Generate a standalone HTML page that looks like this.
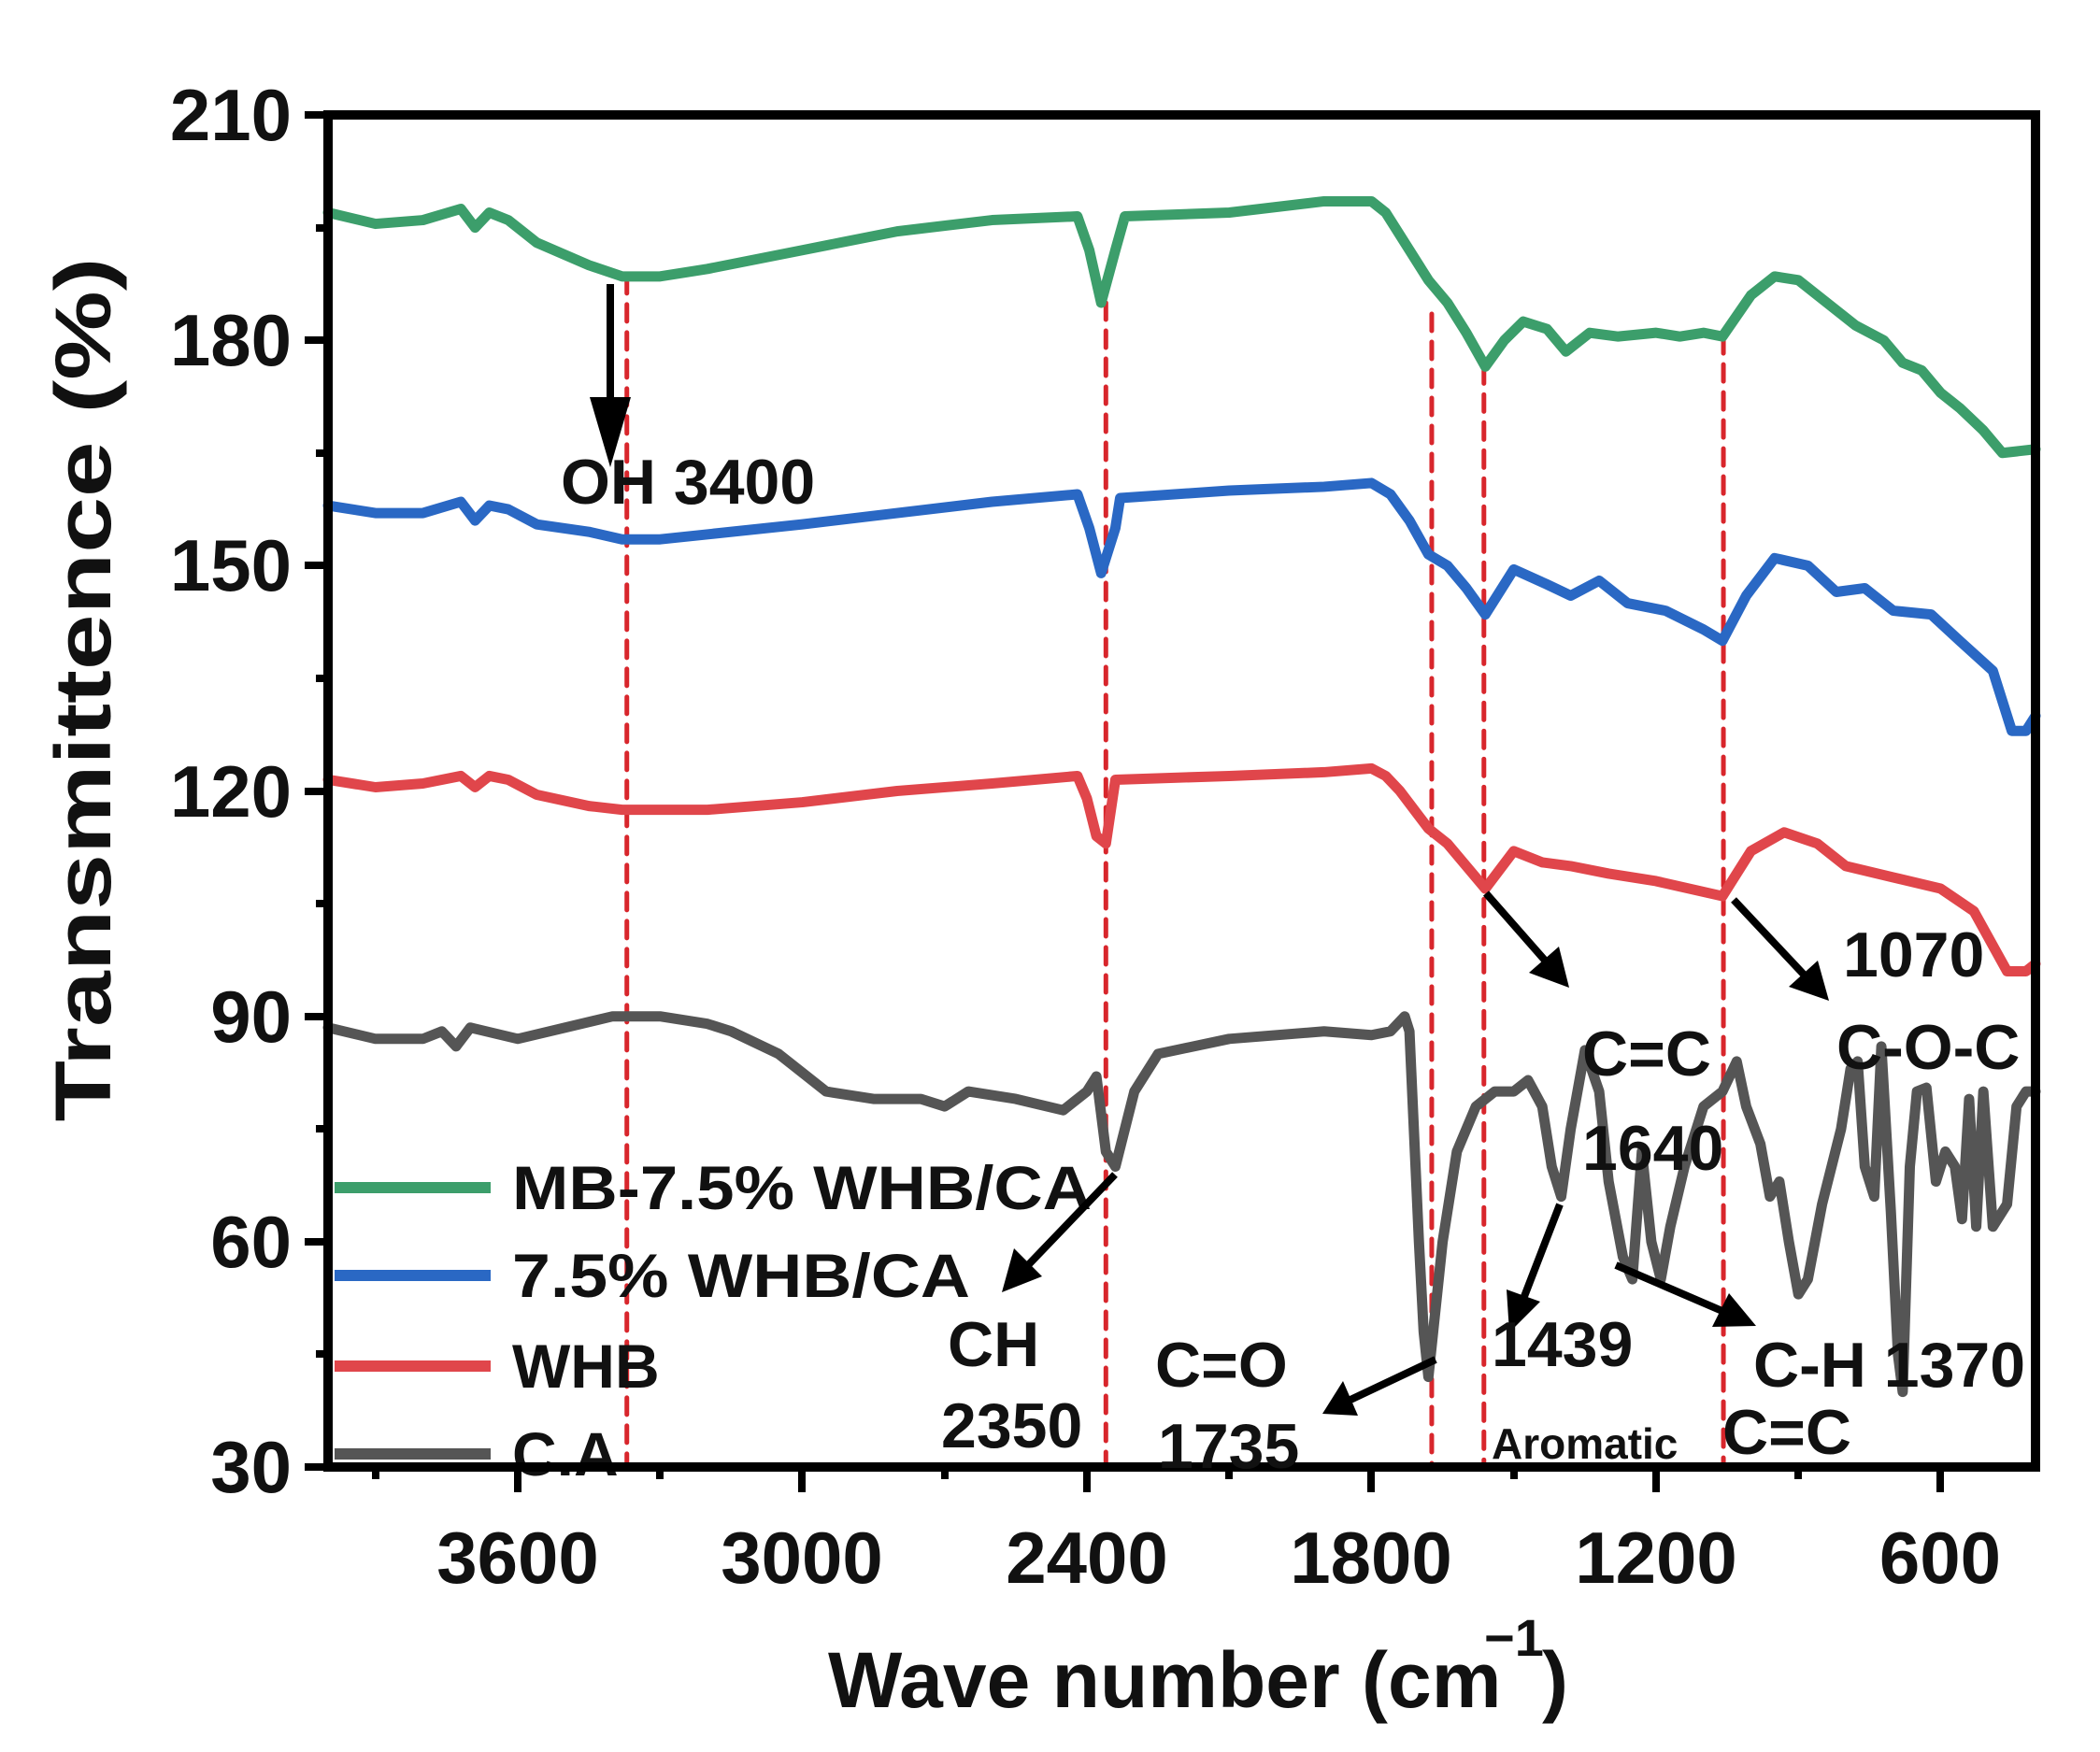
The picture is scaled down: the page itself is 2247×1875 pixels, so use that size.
<!DOCTYPE html>
<html><head><meta charset="utf-8"><style>
html,body{margin:0;padding:0;background:#fff;}
svg{display:block;}
text{font-family:"Liberation Sans",Arial,sans-serif;font-weight:bold;fill:#111;}
</style></head><body>
<svg width="2247" height="1875" viewBox="0 0 2247 1875" xmlns="http://www.w3.org/2000/svg">
<g transform="matrix(-0.5075 0 0 -8.039 2381 1811.2)" fill="none" stroke-linejoin="round" stroke-linecap="round">
<g stroke="#d8262c" stroke-width="5" stroke-dasharray="18 12">
<line x1="3370" y1="188.5" x2="3370" y2="30" vector-effect="non-scaling-stroke"/>
<line x1="2360" y1="185" x2="2360" y2="30" vector-effect="non-scaling-stroke"/>
<line x1="1673" y1="183.5" x2="1673" y2="30" vector-effect="non-scaling-stroke"/>
<line x1="1563" y1="176.5" x2="1563" y2="30" vector-effect="non-scaling-stroke"/>
<line x1="1058" y1="180.5" x2="1058" y2="30" vector-effect="non-scaling-stroke"/>
</g>
<polyline vector-effect="non-scaling-stroke" stroke="#3c9e6b" stroke-width="11" points="4000,197 3900,195.5 3800,196 3720,197.5 3690,195 3660,197 3620,196 3560,193 3450,190 3380,188.5 3300,188.5 3200,189.5 3000,192 2800,194.5 2600,196 2420,196.5 2395,192 2370,185 2340,192 2320,196.5 2100,197 1900,198.5 1800,198.5 1770,197 1720,192 1680,188 1640,185 1600,181 1560,176.5 1520,180 1480,182.5 1430,181.5 1390,178.5 1340,181 1280,180.5 1200,181 1150,180.5 1100,181 1060,180.5 1000,186 950,188.5 900,188 840,185 780,182 720,180 680,177 640,176 600,173 560,171 510,168 470,165 400,165.5"/>
<polyline vector-effect="non-scaling-stroke" stroke="#2a68c4" stroke-width="11" points="4000,158 3900,157 3800,157 3720,158.5 3690,156 3660,158 3620,157.5 3560,155.5 3450,154.5 3380,153.5 3300,153.5 3000,155.5 2800,157 2600,158.5 2420,159.5 2395,155 2370,149 2340,155 2330,159 2100,160 1900,160.5 1800,161 1760,159.5 1720,156 1680,151.5 1640,150 1600,147 1560,143.5 1500,149.5 1430,147.5 1380,146 1320,148 1260,145 1180,144 1100,141.5 1060,140 1010,146 950,151 880,150 820,146.5 760,147 700,144 620,143.5 560,140 490,136 450,128 420,128 400,130"/>
<polyline vector-effect="non-scaling-stroke" stroke="#e0464b" stroke-width="11" points="4000,121.5 3900,120.5 3800,121 3720,122 3690,120.5 3660,122 3620,121.5 3560,119.5 3450,118 3380,117.5 3200,117.5 3000,118.5 2800,120 2600,121 2420,122 2400,119 2380,114 2360,113 2340,121.5 2100,122 1900,122.5 1800,123 1770,122 1740,120 1680,115 1640,113 1600,110 1560,107 1500,112 1440,110.5 1380,110 1300,109 1200,108 1060,106 1000,112 930,114.5 860,113 800,110 700,108.5 600,107 530,104 460,96 420,96 400,97"/>
<polyline vector-effect="non-scaling-stroke" stroke="#555555" stroke-width="11" points="4000,88.5 3900,87 3800,87 3760,88 3730,86 3700,88.5 3600,87 3500,88.5 3400,90 3300,90 3200,89 3150,88 3050,85 2950,80 2850,79 2750,79 2700,78 2650,80 2550,79 2450,77.5 2400,80 2380,82 2360,72 2340,70 2300,80 2250,85 2100,87 1900,88 1800,87.5 1760,88 1730,90 1720,88 1700,60 1690,48 1680,42 1670,48 1650,60 1620,72 1580,78 1540,80 1500,80 1470,81.5 1440,78 1420,70 1400,66 1380,75 1350,85.5 1320,80 1300,68 1270,58 1250,55 1230,72 1210,60 1190,55 1170,62 1140,70 1100,78 1060,80 1030,84 1010,78 980,73 960,66 940,68 920,60 900,53 880,55 850,65 810,75 790,83 775,84 760,70 740,66 725,86 705,64 690,45 680,40 665,70 650,80 630,80.5 610,68 590,72 570,70 555,63 540,79 525,62 510,80 490,62 460,65 440,78 420,80 400,80"/>
</g>
<g stroke-width="12" stroke-linecap="butt">
<line x1="358" y1="1271" x2="525" y2="1271" stroke="#3c9e6b"/>
<line x1="358" y1="1365" x2="525" y2="1365" stroke="#2a68c4"/>
<line x1="358" y1="1462" x2="525" y2="1462" stroke="#e0464b"/>
<line x1="358" y1="1556" x2="525" y2="1556" stroke="#555555"/>
</g>
<g font-size="66">
<text x="548" y="1294" textLength="620" lengthAdjust="spacingAndGlyphs">MB-7.5% WHB/CA</text>
<text x="548" y="1388" textLength="490" lengthAdjust="spacingAndGlyphs">7.5% WHB/CA</text>
<text x="548" y="1485">WHB</text>
<text x="548" y="1579">C.A</text>
</g>
<rect x="351" y="123" width="1827" height="1447" fill="none" stroke="#000" stroke-width="10"/>
<g stroke="#000" stroke-width="8">
<line x1="326" y1="123" x2="351" y2="123"/><line x1="326" y1="364" x2="351" y2="364"/><line x1="326" y1="605" x2="351" y2="605"/><line x1="326" y1="847" x2="351" y2="847"/><line x1="326" y1="1088" x2="351" y2="1088"/><line x1="326" y1="1329" x2="351" y2="1329"/><line x1="326" y1="1570" x2="351" y2="1570"/>
<line x1="338" y1="244" x2="351" y2="244"/><line x1="338" y1="485" x2="351" y2="485"/><line x1="338" y1="726" x2="351" y2="726"/><line x1="338" y1="967" x2="351" y2="967"/><line x1="338" y1="1208" x2="351" y2="1208"/><line x1="338" y1="1449" x2="351" y2="1449"/>
<line x1="554" y1="1570" x2="554" y2="1597"/><line x1="858" y1="1570" x2="858" y2="1597"/><line x1="1163" y1="1570" x2="1163" y2="1597"/><line x1="1467" y1="1570" x2="1467" y2="1597"/><line x1="1772" y1="1570" x2="1772" y2="1597"/><line x1="2076" y1="1570" x2="2076" y2="1597"/>
<line x1="402" y1="1570" x2="402" y2="1583"/><line x1="706" y1="1570" x2="706" y2="1583"/><line x1="1011" y1="1570" x2="1011" y2="1583"/><line x1="1315" y1="1570" x2="1315" y2="1583"/><line x1="1620" y1="1570" x2="1620" y2="1583"/><line x1="1924" y1="1570" x2="1924" y2="1583"/>
</g>
<g font-size="78" text-anchor="end">
<text x="312" y="150">210</text><text x="312" y="391">180</text><text x="312" y="632">150</text><text x="312" y="874">120</text><text x="312" y="1115">90</text><text x="312" y="1356">60</text><text x="312" y="1597">30</text>
</g>
<g font-size="78" text-anchor="middle">
<text x="554" y="1694">3600</text><text x="858" y="1694">3000</text><text x="1163" y="1694">2400</text><text x="1467" y="1694">1800</text><text x="1772" y="1694">1200</text><text x="2076" y="1694">600</text>
</g>
<text x="886" y="1827" font-size="84" textLlength="700" lengthAdjust="spacingAndGlyphs">Wave number (cm</text>
<text x="1588" y="1772" font-size="56">−1</text>
<text x="1650" y="1827" font-size="84">)</text>
<text transform="translate(118,738) rotate(-90)" font-size="84" text-anchor="middle" textLength="925" lengthAdjust="spacingAndGlyphs">Transmittence (%)</text>
<g stroke="#000" stroke-width="8" fill="none">
<line x1="653" y1="304" x2="653" y2="440"/>
<line x1="1193" y1="1257" x2="1100" y2="1354"/>
<line x1="1536" y1="1455" x2="1445" y2="1498"/>
<line x1="1669" y1="1289" x2="1630" y2="1390"/>
<line x1="1729" y1="1354" x2="1845" y2="1404"/>
<line x1="1590" y1="956" x2="1655" y2="1030"/>
<line x1="1855" y1="963" x2="1932" y2="1045"/>
</g>
<g fill="#000">
<polygon points="631,425 675,425 653,500"/>
<polygon points="1072,1383 1085,1336 1115,1366"/>
<polygon points="1415,1513 1437,1478 1453,1515"/>
<polygon points="1615,1426 1612,1380 1648,1393"/>
<polygon points="1879,1419 1832,1420 1850,1384"/>
<polygon points="1679,1057 1636,1041 1668,1013"/>
<polygon points="1957,1071 1914,1056 1945,1028"/>
</g>
<g font-size="68">
<text x="600" y="539">OH 3400</text>
<text x="1014" y="1462">CH</text>
<text x="1007" y="1549">2350</text>
<text x="1236" y="1484">C=O</text>
<text x="1239" y="1571">1735</text>
<text x="1596" y="1462">1439</text>
<text x="1843" y="1556">C=C</text>
<text x="1876" y="1484">C-H 1370</text>
<text x="1693" y="1151">C=C</text>
<text x="1693" y="1252">1640</text>
<text x="1972" y="1045">1070</text>
<text x="1965" y="1144">C-O-C</text>
</g>
<text x="1596" y="1561" font-size="46">Aromatic</text>
</svg>
</body></html>
